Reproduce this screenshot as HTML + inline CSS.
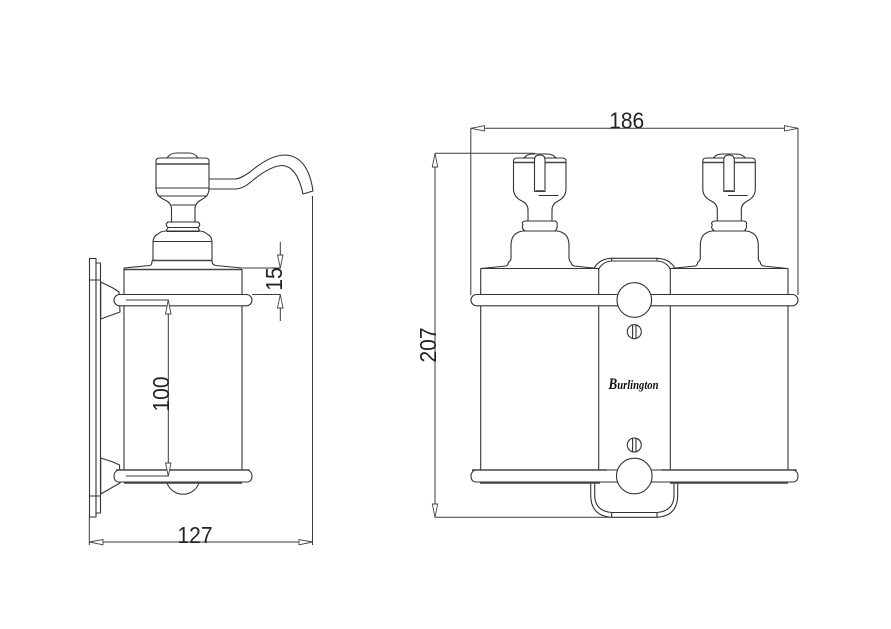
<!DOCTYPE html>
<html>
<head>
<meta charset="utf-8">
<style>
html,body{margin:0;padding:0;background:#fff;width:891px;height:629px;overflow:hidden}
svg{display:block}
text{font-family:"Liberation Sans",sans-serif;font-size:23.5px;fill:#222;text-anchor:middle}
.l{fill:none;stroke:#333;stroke-width:1.1;stroke-linejoin:round;stroke-linecap:round}
.w{fill:#fff;stroke:#333;stroke-width:1.1;stroke-linejoin:round}
.t{fill:none;stroke:#444;stroke-width:1.6}
.d{fill:none;stroke:#3a3a3a;stroke-width:1}
.a{fill:#fff;stroke:#444;stroke-width:.9}
</style>
</head>
<body>
<svg width="891" height="629" viewBox="0 0 891 629" xmlns="http://www.w3.org/2000/svg">
<defs>
<g id="pump">
  <path class="l" d="M481 268.5 L506 266 Q508.5 265 508.5 262 Q511 261 511 258 V246 Q511 236 517 233 Q520 231 524 231 H556 Q560 231 563 233 Q569 236 569 246 V258 Q569 261 571 262 Q571 265 574 266 L598 268.5"/>
  <path class="w" d="M528 221 V210 Q528 204 522 201 Q513.5 197 513.5 189 V161 Q513.5 158 517 158 H562 Q566 158 566 161 V189 Q566 197 558 201 Q552 204 552 210 V221 Z"/>
  <path class="l" d="M524 158 Q527 154 533 154 H547 Q553 154 556 158"/>
  <path class="t" d="M513.5 162.5 H566"/>
  <path class="w" d="M525 221 H555 Q558 222 557 225 Q558 228 555 231 H525 Q521 228 523 225 Q521 222 525 221 Z"/>
  <path class="w" d="M534.5 191.5 V160 Q534.5 155 539.7 155 Q545 155 545 160 V191.5 Z"/>
  <path class="t" d="M535.5 191 H544"/>
  <path class="l" d="M539 195.5 H558"/>
</g>
</defs>

<!-- LEFT VIEW -->
<path class="l" d="M89.5 258.5 H96 V263 H100.5 V513 H96 V517 H89.5 Z"/>
<path class="l" d="M96 263 V513 M89.5 280 H100.5 M89.5 496 H100.5"/>
<path class="l" d="M100.7 282 L113 288 L119 292 L120 312 L100.7 319 Z"/>
<path class="l" d="M100.7 458 L113 462 L119.5 465 L120 483 L100.7 494 Z"/>

<path class="l" d="M124 269 V469 M242 269 V469"/>
<path class="t" d="M124 269.5 H242"/>
<path class="l" d="M124 268 L150 265.5 Q152 265 152 261 M242 268 L216 265.5 Q212 265 212 261"/>
<path class="t" d="M152 260.5 H212"/>
<path class="l" d="M153 260 V243 Q153 236 158 234 Q161 231 166 231 H199 Q204 231 207 234 Q212 236 212 243 V260 M153 241.5 H212"/>
<path class="w" d="M171.5 222 V209 Q171.5 203 165 200 Q156 196 156 189 V161 Q156 158 160 158 H205 Q209 158 209 161 V189 Q209 196 201 200 Q195 203 195 209 V222 Z"/>
<path class="l" d="M167 158 Q170 153 177 153 H189 Q195 153 198 158"/>
<path class="t" d="M156 164 H209"/>
<path class="l" d="M156 188 H209 M158 196 H207 M172 205 H195"/>
<path class="w" d="M168 222 H198 Q201.5 224.5 198 227.5 H168 Q164.5 224.5 168 222 Z"/>
<path class="l" d="M168 228 Q166 230 167 231.5 H199 Q200 230 198 228"/>
<path class="l" d="M209 179 H235 Q240 179 250 172 Q270 155 285 155 Q308 156 313 191 L303 194 Q297 166 282 165.5 Q270 166 252 181 Q243 189 235 189 H209"/>

<!-- rails left -->
<rect class="w" x="114" y="294.5" width="138" height="11.3" rx="5.6"/>
<path class="l" d="M167 483 A17 17 0 0 0 199 483"/>
<path class="w" d="M118 470 H248 Q252 472 252 476 Q252 481 248 482 H118 Q114 481 114 476 Q114 472 118 470 Z"/>
<path class="t" d="M116 470 H249.5"/>
<path class="t" d="M124 483 H242"/>

<!-- inner dim -->
<path class="d" d="M126 300 H168.3 V476 H126"/>
<polygon class="a" points="168.3,300 165.5,314 171,314"/>
<polygon class="a" points="168.3,476 165.5,463 171,463"/>
<text transform="translate(169 394) rotate(-90)" textLength="35" lengthAdjust="spacingAndGlyphs">100</text>

<!-- 15 dim -->
<path class="d" d="M243 268 H280.3 M252 294.5 H280.3 M280.3 241.7 V268 M280.3 294.5 V321"/>
<polygon class="a" points="280.3,268 277.5,255 283,255"/>
<polygon class="a" points="280.3,294.5 277.5,308 283,308"/>
<text transform="translate(282 279) rotate(-90)" textLength="23.5" lengthAdjust="spacingAndGlyphs">15</text>

<!-- 127 dim -->
<path class="d" d="M89.3 517 V545 M312.5 196 V545 M89.3 542 H312.5"/>
<polygon class="a" points="89.3,542 103,539.5 103,544.8"/>
<polygon class="a" points="312.5,542 299,539.5 299,544.8"/>
<text x="195" y="543" textLength="35" lengthAdjust="spacingAndGlyphs">127</text>

<!-- RIGHT VIEW -->
<path class="l" d="M480.7 269 V469 M788 269 V469 M598.7 269 V469 M670.3 269 V469"/>
<path class="l" d="M480.7 268.5 H598.7 M670.3 268.5 H788"/>
<use href="#pump"/>
<use href="#pump" transform="translate(189.3 0)"/>
<path class="l" d="M594 268 Q600 258.5 611.7 258.3 H657 Q669 258.5 675 268"/>
<path class="l" d="M598.7 269 Q603 261.5 611.7 261 H657 Q666 261.5 670.3 269 M611.7 258.3 V261 M657 258.3 V261"/>

<rect class="w" x="471" y="294.5" width="327" height="11.3" rx="5.6"/>
<circle class="w" cx="634.3" cy="300" r="17.3"/>

<!-- screws -->
<circle class="l" cx="634.3" cy="331.7" r="7"/>
<path class="l" d="M632.6 325 V338.4 M636 325 V338.4"/>
<circle class="l" cx="634.3" cy="445" r="7"/>
<path class="l" d="M632.6 438.3 V451.7 M636 438.3 V451.7"/>

<text x="633.5" y="389" textLength="50" lengthAdjust="spacingAndGlyphs" style="font-family:'Liberation Serif',serif;font-style:italic;font-weight:bold;font-size:13px;fill:#111"><tspan font-size="16">B</tspan>urlington</text>

<!-- lower bracket -->
<path class="l" d="M590.7 483 V495 Q590.7 516 611.7 517.3 H657 Q677.7 516 677.7 495 V483"/>
<path class="l" d="M594.7 483 V495 Q594.7 511 611.7 512.5 H657 Q674 511 674 495 V483 M611.7 512.5 V517.3 M657 512.5 V517.3"/>

<!-- lower rail -->
<path class="w" d="M475 470 H794 Q798 472 798 476 Q798 481 794 482 H475 Q471 481 471 476 Q471 472 475 470 Z"/>
<path class="t" d="M472 470 H606.7 M662 470 H796.7"/>
<path class="t" d="M480 483 H600 M670 483 H788"/>
<circle class="w" cx="634.3" cy="476" r="17.8"/>

<!-- 186 dim -->
<path class="d" d="M470.8 128.3 V295 M798 128.3 V295 M470.8 128.3 H798"/>
<polygon class="a" points="470.8,128.3 484.5,125.7 484.5,131"/>
<polygon class="a" points="798,128.3 784.5,125.7 784.5,131"/>
<text x="626.7" y="128.5" textLength="35" lengthAdjust="spacingAndGlyphs">186</text>

<!-- 207 dim -->
<path class="d" d="M435 153.3 H535 M435 153.3 V517.3 H610"/>
<polygon class="a" points="435,153.3 432.3,167 437.7,167"/>
<polygon class="a" points="435,517.3 432.3,504 437.7,504"/>
<text transform="translate(436 345) rotate(-90)" textLength="35" lengthAdjust="spacingAndGlyphs">207</text>
</svg>
</body>
</html>
